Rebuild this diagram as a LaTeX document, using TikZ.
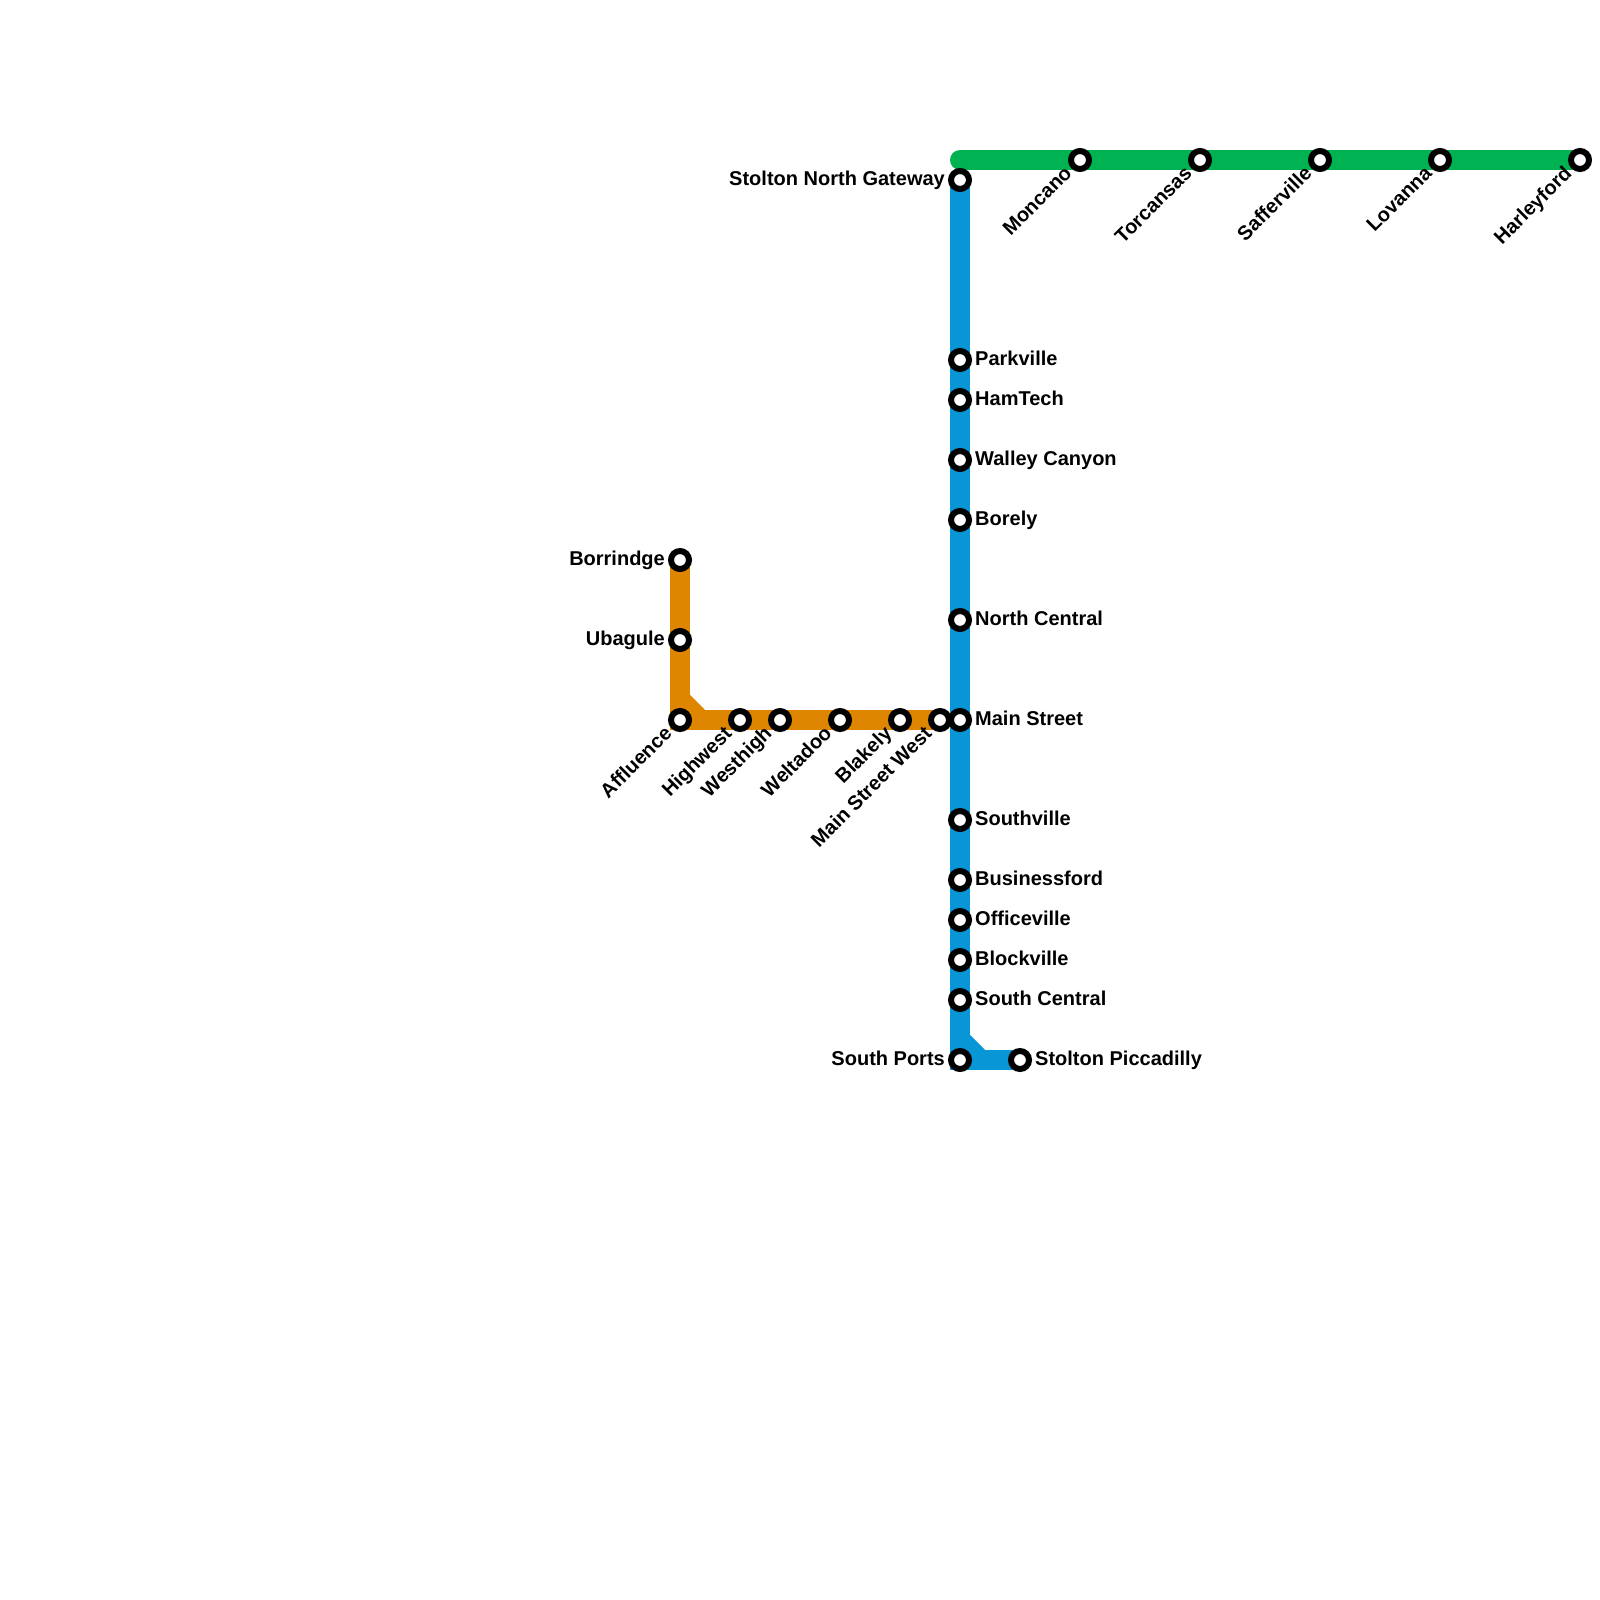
\documentclass[tikz,border=0pt]{standalone}
\usepackage{fontspec}
\setmainfont{Liberation Sans}
\definecolor{lineorange}{HTML}{DF8600}
\definecolor{lineblue}{HTML}{0896D7}
\definecolor{linegreen}{HTML}{00B251}
\tikzset{
  stn/.style={circle,draw=black,fill=white,line width=6pt,outer sep=0pt,minimum size=18pt,inner sep=0pt},
  lbl/.style={font=\fontsize{20}{22}\selectfont\bfseries,inner sep=0pt,text=black},
  lblr/.style={lbl,anchor=base west},
  lbll/.style={lbl,anchor=base east},
  lbld/.style={lbl,anchor=base east,rotate=45},
  track/.style={line width=20pt,line join=miter}
}
\begin{document}
\begin{tikzpicture}[x=1pt,y=-1pt]
\useasboundingbox (0,0) rectangle (1600,1600);
\foreach \n/\x/\y in {sng/960/180,park/960/360,ham/960/400,wal/960/460,bor/960/520,nc/960/620,ms/960/720,sv/960/820,bus/960/880,off/960/920,blo/960/960,sc/960/1000,sp/960/1060,pic/1020/1060,
 mon/1080/160,tor/1200/160,saf/1320/160,lov/1440/160,har/1580/160,
 brr/680/560,uba/680/640,aff/680/720,hig/740/720,wes/780/720,wel/840/720,bla/900/720,msw/940/720}
  {\coordinate (c\n) at (\x,\y);}
\coordinate (gstart) at (960,160);
% orange
\draw[track,lineorange] (cbrr) -- (caff) -- (cmsw);
\fill[lineorange] (690,695) -- (705,710) -- (705,711) -- (690,711) -- cycle;
% green
\draw[track,linegreen,line cap=round] (gstart) -- (char);
% blue
\draw[track,lineblue] (csng) -- (csp) -- (cpic);
\fill[lineblue] (970,1035) -- (985,1050) -- (985,1051) -- (970,1051) -- cycle;
% stations
\foreach \n in {sng,park,ham,wal,bor,nc,ms,sv,bus,off,blo,sc,sp,pic,mon,tor,saf,lov,har,brr,uba,aff,hig,wes,wel,bla,msw}
  {\node[stn] (\n) at (c\n) {};}
% labels
\node[lbll] (lsng) at ([shift={(-15,5.5)}]sng) {Stolton North Gateway};
\node[lblr] (lpark) at ([shift={(15,5.5)}]park) {Parkville};
\node[lblr] (lham) at ([shift={(15,5.5)}]ham) {HamTech};
\node[lblr] (lwal) at ([shift={(15,5.5)}]wal) {Walley Canyon};
\node[lblr] (lbor) at ([shift={(15,5.5)}]bor) {Borely};
\node[lblr] (lnc) at ([shift={(15,5.5)}]nc) {North Central};
\node[lblr] (lms) at ([shift={(15,5.5)}]ms) {Main Street};
\node[lblr] (lsv) at ([shift={(15,5.5)}]sv) {Southville};
\node[lblr] (lbus) at ([shift={(15,5.5)}]bus) {Businessford};
\node[lblr] (loff) at ([shift={(15,5.5)}]off) {Officeville};
\node[lblr] (lblo) at ([shift={(15,5.5)}]blo) {Blockville};
\node[lblr] (lsc) at ([shift={(15,5.5)}]sc) {South Central};
\node[lbll] (lsp) at ([shift={(-15,5.5)}]sp) {South Ports};
\node[lblr] (lpic) at ([shift={(15,5.5)}]pic) {Stolton Piccadilly};
\node[lbll] (lbrr) at ([shift={(-15,5.5)}]brr) {Borrindge};
\node[lbll] (luba) at ([shift={(-15,5.5)}]uba) {Ubagule};
\node[lbld] (lmon) at ([shift={(-7,14.5)}]mon) {Moncano};
\node[lbld] (ltor) at ([shift={(-7,14.5)}]tor) {Torcansas};
\node[lbld] (lsaf) at ([shift={(-7,14.5)}]saf) {Safferville};
\node[lbld] (llov) at ([shift={(-7,14.5)}]lov) {Lovanna};
\node[lbld] (lhar) at ([shift={(-7,14.5)}]har) {Harleyford};
\node[lbld] (laff) at ([shift={(-7,14.5)}]aff) {Affluence};
\node[lbld] (lhig) at ([shift={(-7,14.5)}]hig) {Highwest};
\node[lbld] (lwes) at ([shift={(-7,14.5)}]wes) {Westhigh};
\node[lbld] (lwel) at ([shift={(-7,14.5)}]wel) {Weltadoo};
\node[lbld] (lbla) at ([shift={(-7,14.5)}]bla) {Blakely};
\node[lbld] (lmsw) at ([shift={(-7,14.5)}]msw) {Main Street West};
\end{tikzpicture}
\end{document}
